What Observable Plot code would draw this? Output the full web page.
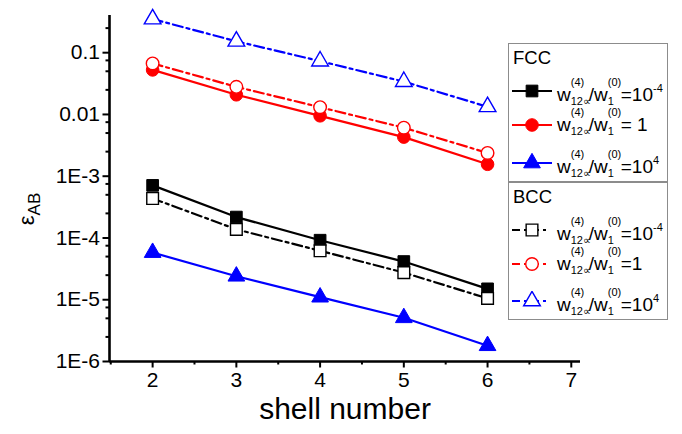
<!DOCTYPE html>
<html><head><meta charset="utf-8">
<script src="https://cdn.jsdelivr.net/npm/d3@7"></script>
<script src="https://cdn.jsdelivr.net/npm/@observablehq/plot@0.6"></script>
<style>
body{margin:0;background:#fff;font-family:"Liberation Sans",Arial,sans-serif;}
#wrap{position:relative;width:682px;height:434px;overflow:hidden;}
.box{position:absolute;border:1.2px solid #8c8c8c;background:#fff;box-sizing:border-box;}
.title{position:absolute;font-size:18.5px;line-height:20px;color:#000;}
.row{position:absolute;height:22px;display:flex;align-items:center;white-space:nowrap;}
.row svg{display:block;flex:none;}
.lab{font-size:19px;line-height:22px;margin-left:5px;color:#000;position:relative;}
.st{display:inline-block;position:relative;width:18px;height:10px;}
.st .up{position:absolute;left:0;top:-14px;font-size:11px;line-height:10px;}
.st .dn{position:absolute;left:0;top:5px;font-size:11px;line-height:10px;}
.st.one{width:13px;}
.ex{font-size:11px;vertical-align:9px;}
#ylab{position:absolute;left:29px;top:209px;transform:translate(-50%,-50%) rotate(-90deg);font-size:22px;white-space:nowrap;}
#ylab sub{font-size:17px;vertical-align:-6px;}
</style></head><body><div id="wrap"></div>
<script>
// ---- data ----
const shells = [2, 3, 4, 5, 6];
const fccLow  = [7.1e-4, 2.18e-4, 9.2e-5, 4.15e-5, 1.5e-5];
const fccMid  = [0.0526, 0.0208, 0.0095, 0.0043, 0.00156];
const fccHigh = [5.8e-5, 2.4e-5, 1.1e-5, 5.1e-6, 1.8e-6];
const bccLow  = [4.36e-4, 1.38e-4, 6.2e-5, 2.75e-5, 1.05e-5];
const bccMid  = [0.067, 0.028, 0.0131, 0.0061, 0.00238];
const bccHigh = [0.35, 0.153, 0.073, 0.034, 0.0133];

const yMajor = [1e-6, 1e-5, 1e-4, 1e-3, 0.01, 0.1];
const yTickLabels = ["1E-6", "1E-5", "1E-4", "1E-3", "0.01", "0.1"];
const yMinorMult = [2.5, 5, 7.5];
const xMajor = [2, 3, 4, 5, 6, 7];
const xTickLabels = ["2", "3", "4", "5", "6", "7"];
const xMinor = [1.5, 2.5, 3.5, 4.5, 5.5, 6.5];
const xLabel = "shell number";
const groupTitles = ["FCC", "BCC"];
const ratioLabels = ["10", "1", "10"];
const ratioExps = ["-4", null, "4"];

const xDomain = [1.485, 7.11];
const yDomain = [1e-6, 0.4];

const series = [
  {name: "fccLow",  vals: fccLow,  color: "#000", dash: null, symbol: "square",   open: false},
  {name: "fccMid",  vals: fccMid,  color: "#ff0000", dash: null, symbol: "circle",   open: false},
  {name: "fccHigh", vals: fccHigh, color: "#0000ff", dash: null, symbol: "triangle", open: false},
  {name: "bccLow",  vals: bccLow,  color: "#000", dash: "10,4,3,4", symbol: "square",   open: true},
  {name: "bccMid",  vals: bccMid,  color: "#ff0000", dash: "10,4,3,4", symbol: "circle",   open: true},
  {name: "bccHigh", vals: bccHigh, color: "#0000ff", dash: "10,4,3,4", symbol: "triangle", open: true}
];
const radius = {square: 6.6, circle: 6.3, triangle: 6.2};

const yMinor = [];
for (const m of yMajor) for (const k of yMinorMult) { const v = m * k; if (v < yDomain[1]) yMinor.push(v); }

const marks = [];
for (const s of series) {
  const rows = shells.map((x, i) => ({x, y: s.vals[i]}));
  marks.push(Plot.line(rows, {x: "x", y: "y", stroke: s.color, strokeWidth: 2.2, strokeDasharray: s.dash || undefined}));
}
for (const s of series) {
  const rows = shells.map((x, i) => ({x, y: s.vals[i]}));
  marks.push(Plot.dot(rows, {x: "x", y: "y", symbol: s.symbol, r: radius[s.symbol],
    fill: s.open ? "#fff" : s.color, stroke: s.color, strokeWidth: s.open ? 1.4 : 1}));
}

const chart = Plot.plot({
  width: 682, height: 434,
  marginLeft: 109, marginRight: 102, marginTop: 15, marginBottom: 73,
  style: {fontFamily: "'Liberation Sans', Arial, sans-serif", color: "#000", background: "#fff"},
  x: {domain: xDomain},
  y: {type: "log", domain: yDomain},
  marks: [
    Plot.axisY({ticks: yMinor, tickSize: 3.5, strokeWidth: 2, tickFormat: () => "", label: null}),
    Plot.axisY({ticks: yMajor, tickSize: 6.5, strokeWidth: 2, tickPadding: 3, fontSize: 21,
      tickFormat: d => yTickLabels[yMajor.indexOf(d)], label: null}),
    Plot.axisX({ticks: xMinor, tickSize: 3.5, strokeWidth: 2, tickFormat: () => "", label: null}),
    Plot.axisX({ticks: xMajor, tickSize: 6.5, strokeWidth: 2, tickPadding: 4, fontSize: 21,
      tickFormat: d => xTickLabels[xMajor.indexOf(d)], label: null}),
    Plot.ruleX([xDomain[0]], {stroke: "#000", strokeWidth: 2.6}),
    Plot.ruleY([yDomain[0]], {stroke: "#000", strokeWidth: 2.6}),
    ...marks,
    Plot.text([xLabel], {frameAnchor: "bottom", dy: 57, fontSize: 30, text: d => d, fill: "#000"})
  ]
});
const wrap = document.getElementById("wrap");
wrap.appendChild(chart);

// y label
const yl = document.createElement("div");
yl.id = "ylab";
yl.innerHTML = "ε<sub>AB</sub>";
wrap.appendChild(yl);

// legend
function iconSvg(s) {
  const sz = radius[s.symbol];
  const sym = d3.symbol().type(s.symbol === "square" ? d3.symbolSquare : s.symbol === "circle" ? d3.symbolCircle : d3.symbolTriangle)
    .size(Math.PI * sz * sz)();
  const dash = s.dash ? ` stroke-dasharray="8,4,3,4"` : "";
  const w = s.dash ? 36 : 40;
  return `<svg width="40" height="20"><line x1="0" x2="${w}" y1="10" y2="10" stroke="${s.color}" stroke-width="2.2"${dash}/>` +
    `<path d="${sym}" transform="translate(20,10)" fill="${s.open ? "#fff" : s.color}" stroke="${s.color}" stroke-width="${s.open ? 1.4 : 1}"/></svg>`;
}
function labelHtml(i, fcc) {
  const eq = (ratioExps[i] === null && fcc) ? "= " : "=";
  return `w<span class="st"><span class="up">(4)</span><span class="dn">12∝</span></span>/w` +
    `<span class="st one"><span class="up">(0)</span><span class="dn">1</span></span>${eq}${ratioLabels[i]}` +
    (ratioExps[i] ? `<span class="ex">${ratioExps[i]}</span>` : "");
}
const boxes = [
  {top: 43, bottom: 182, titleY: 48, rows: [91, 125, 163]},
  {top: 182, bottom: 320, titleY: 187, rows: [230, 264, 301]}
];
boxes.forEach((b, g) => {
  const box = document.createElement("div");
  box.className = "box";
  box.style.left = "508px"; box.style.width = "160px";
  box.style.top = b.top + "px"; box.style.height = (b.bottom - b.top) + "px";
  wrap.appendChild(box);
  const t = document.createElement("div");
  t.className = "title"; t.textContent = groupTitles[g];
  t.style.left = "513px"; t.style.top = b.titleY + "px";
  wrap.appendChild(t);
  b.rows.forEach((cy, i) => {
    const s = series[g * 3 + i];
    const r = document.createElement("div");
    r.className = "row";
    r.style.left = "512px"; r.style.top = (cy - 11) + "px";
    r.innerHTML = iconSvg(s) + `<span class="lab">${labelHtml(i, g === 0)}</span>`;
    wrap.appendChild(r);
  });
});
</script></body></html>
